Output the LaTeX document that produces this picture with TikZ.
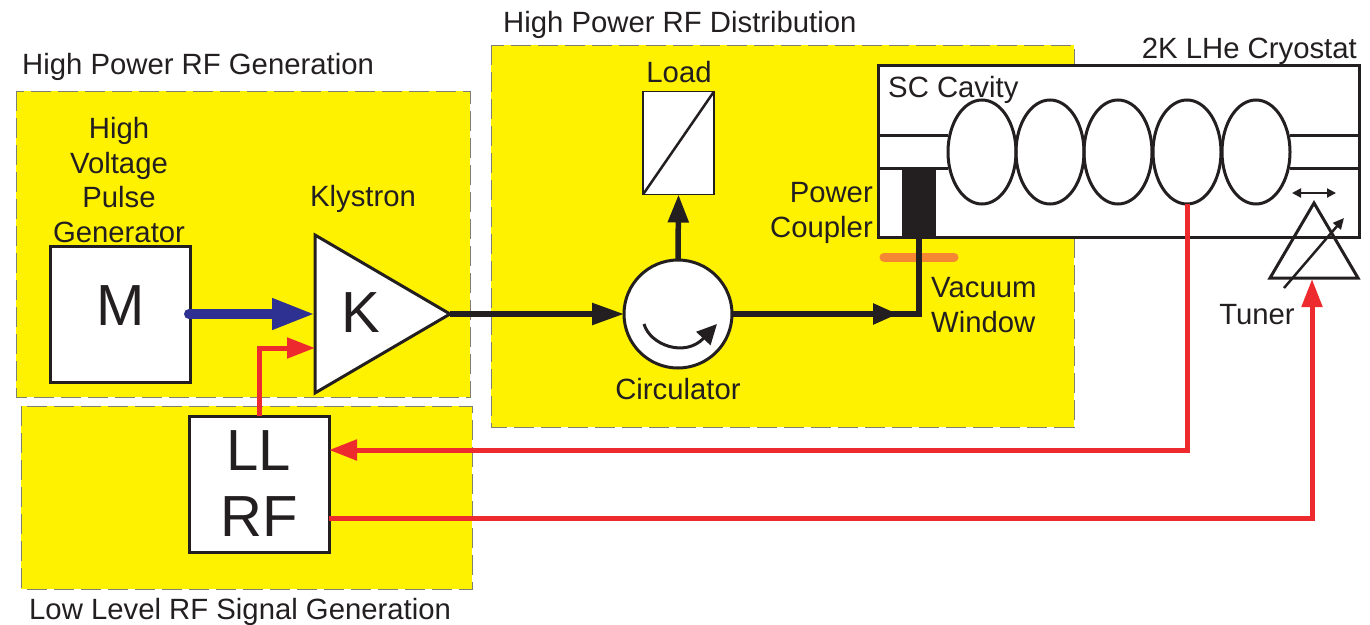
\documentclass[tikz,border=0pt]{standalone}
\usepackage{fontspec}
\setmainfont{Liberation Sans}
\usetikzlibrary{arrows.meta,shapes.geometric}
\definecolor{yel}{HTML}{FFF200}
\definecolor{ink}{HTML}{231F20}
\definecolor{rd}{HTML}{ED2B2F}
\definecolor{bl}{HTML}{2E3192}
\definecolor{org}{HTML}{F58634}
\definecolor{dsh}{HTML}{7F7F70}
\tikzset{
  x=1pt,y=-1pt,
  zone/.style={fill=yel,draw=dsh,line width=1pt,dash pattern=on 20pt off 7pt},
  lab/.style={font=\fontsize{29.3}{34.5}\selectfont,text=ink,inner sep=0pt,align=center},
  big/.style={font=\fontsize{58}{66}\selectfont,text=ink,inner sep=0pt,align=center},
  blk/.style={draw=ink,fill=white,line width=3pt,inner sep=0pt,outer sep=0pt,rectangle},
  wire/.style={draw=ink,line width=5.5pt},
  sig/.style={draw=rd,line width=5pt},
  thin/.style={draw=ink,line width=3pt},
  wh/.style={-{Triangle[length=32pt,width=21pt]}},
  wg/.style={-{Triangle[length=25pt,width=20pt]}},
  vh/.style={-{Triangle[length=28pt,width=20pt]}},
  rh/.style={-{Triangle[length=28pt,width=20pt]}},
}
\begin{document}
\begin{tikzpicture}
\useasboundingbox (0,0) rectangle (1370,624);
% zones
\draw[zone] (16,91) rectangle (470,397);
\draw[zone] (21,406) rectangle (472,589);
\draw[zone] (491,45) rectangle (1074,427);
% zone titles
\node[lab,anchor=west] (tgen) at (22,67) {High Power RF Generation};
\node[lab,anchor=west] (tdist) at (503,25) {High Power RF Distribution};
\node[lab,anchor=west] (tllrf) at (29,612) {Low Level RF Signal Generation};
\node[lab,anchor=east] (tcryo) at (1357,51) {2K LHe Cryostat};
% cryostat
\node[blk,anchor=north west,minimum width=481pt,minimum height=172pt] (cryo) at (878,65) {};
\node[lab,anchor=west] (tcav) at (888,90) {SC Cavity};
\coordinate (pl1) at (878,135); \coordinate (pl2) at (948,135);
\coordinate (pl3) at (878,168); \coordinate (pl4) at (948,168);
\coordinate (pr1) at (1290,135); \coordinate (pr2) at (1360,135);
\coordinate (pr3) at (1290,168); \coordinate (pr4) at (1360,168);
\draw[thin] (pl1) -- (pl2) (pl3) -- (pl4) (pr1) -- (pr2) (pr3) -- (pr4);
\foreach \n/\cx in {c1/982,c2/1050,c3/1118,c4/1187,c5/1256}
  \node[draw=ink,line width=3pt,ellipse,minimum width=68pt,minimum height=104pt,inner sep=0pt,outer sep=0pt] (\n) at (\cx,152) {};
% coupler
\node[fill=ink,anchor=north west,minimum width=34pt,minimum height=69pt,inner sep=0pt,outer sep=0pt] (coup) at (902,168) {};
% M
\node[blk,minimum width=140pt,minimum height=136pt] (mod) at (120,314) {};
\node[big] (tm) at (121,306) {M};
\node[lab] (tpulse) at (119,180) {High\\Voltage\\Pulse\\Generator};
% Klystron
\node[draw=ink,fill=white,line width=3pt,isosceles triangle,isosceles triangle stretches,shape border rotate=0,minimum width=158pt,minimum height=135pt,inner sep=0pt,outer sep=0pt,anchor=apex] (kly) at (450,314) {};
\node[big] (tk) at (361,313) {K};
\node[lab] (tkly) at (363,199) {Klystron};
\coordinate (kin1) at (315,314);
\coordinate (kin2) at (315,348);
% LLRF
\node[blk,big,minimum width=140pt,minimum height=136pt] (ll) at (259,484) {LL\\RF};
\coordinate (lltop) at (259,416);
\coordinate (llin) at (329,450);
\coordinate (llout) at (329,518);
% Circulator
\node[draw=ink,fill=white,line width=3pt,circle,minimum size=108pt,inner sep=0pt,outer sep=0pt] (circ) at (678,314) {};
\coordinate (ca1) at (644,324);
\coordinate (ca2) at (717,324);
\draw[ink,line width=3pt,-{Triangle[length=20pt,width=19pt]}] (ca1) .. controls (650,345) and (685,358) .. (ca2);
\node[lab] (tcirc) at (678,389) {Circulator};
% Load
\node[blk,line width=1.5pt,minimum width=71pt,minimum height=103pt] (load) at (678.5,143) {};
\draw[ink,line width=2.5pt] (load.south west) -- (load.north east);
\node[lab] (tload) at (679,72) {Load};
% wires
\draw[wire,wh] (kly.apex) -- (circ.west);
\draw[wire,vh] (circ.north) -- (load.south);
\coordinate (corner) at (919,314);
\coordinate (cup) at (919,237);
\coordinate (cmid) at (898,314);
\draw[wire,line join=miter] (circ.east) -- (corner) -- (cup);
\draw[wire,wg] (circ.east) -- (cmid);
% Orange window
\coordinate (o1) at (884,257); \coordinate (o2) at (954,257);
\draw[org,line width=9pt,line cap=round] (o1) -- (o2);
\draw[wire] (919,250) -- (919,264);
\node[lab,align=left,anchor=west] (tvac) at (931,305) {Vacuum\\Window};
\node[lab,align=right,anchor=east] (tpc) at (873,213) {Power\\Coupler};
% blue
\draw[bl,line width=10pt,line cap=round,-{Triangle[length=43pt,width=29pt]}] (189,314) -- (kin1);
% Red
\draw[sig,rh] (lltop) -- (259,348) -- (kin2);
\coordinate (cbot) at (1187,204);
\coordinate (cturn) at (1187,450);
\draw[sig,rh] (cbot) -- (cturn) -- (llin);
\coordinate (tturn) at (1312,518);
\coordinate (ttip) at (1312,279);
\draw[sig,rh] (llout) -- (tturn) -- (ttip);
% tuner
\node[draw=ink,line width=3pt,isosceles triangle,isosceles triangle stretches,shape border rotate=90,minimum width=88pt,minimum height=75pt,inner sep=0pt,outer sep=0pt,anchor=apex] (tun) at (1314,203) {};
\coordinate (t1) at (1284,288); \coordinate (t2) at (1344,218);
\draw[ink,line width=2.5pt,-{Triangle[length=11pt,width=10pt]}] (t1) -- (t2);
\coordinate (d1) at (1292,193); \coordinate (d2) at (1336,193);
\draw[ink,line width=2pt,{Triangle[length=9pt,width=9pt]}-{Triangle[length=9pt,width=9pt]}] (d1) -- (d2);
\node[lab] (ttun) at (1257,315) {Tuner};
\end{tikzpicture}
\end{document}
